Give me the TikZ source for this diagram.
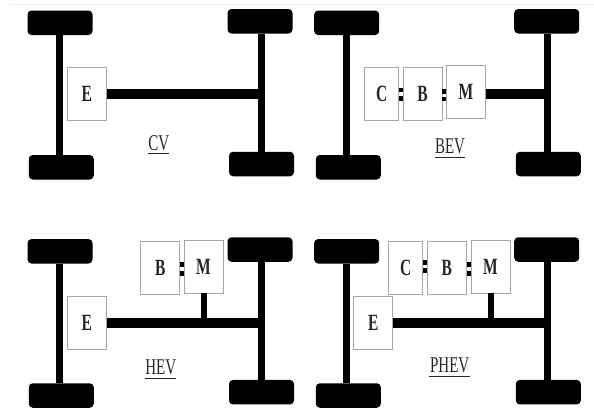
\documentclass[tikz,border=0pt]{standalone}
\usepackage{fontspec}
\setmainfont{Liberation Serif}
\usepackage{tikz}
\usetikzlibrary{positioning, calc}
\definecolor{mBorder}{HTML}{A6A6A6}
\definecolor{mInk}{HTML}{262626}
\definecolor{mFaint}{HTML}{EFEFEF}
\newcommand{\tall}[1]{\scalebox{1}[1.5]{#1}}
\tikzset{
  wheel/.style={fill=black, rounded corners=4pt, minimum width=65pt, minimum height=24.5pt, inner sep=0pt},
  axle/.style={line width=7pt},
  shaft/.style={line width=10pt},
  stub/.style={line width=6pt},
  part/.style={draw=mBorder, line width=0.9pt, fill=white, minimum height=53pt, inner sep=0pt, text=mInk, font=\fontsize{15.5}{15.5}\selectfont\bfseries},
  wide/.style={part, minimum width=39pt},
  narrow/.style={part, minimum width=34pt},
  coupler/.style={fill=black, minimum width=4pt, minimum height=4.6pt, inner sep=0pt},
  tag/.style={inner sep=0pt, text=mInk, font=\fontsize{15}{15}\selectfont},
  rule/.style={mInk, line width=1.3pt}
}

\begin{document}
\begin{tikzpicture}[x=1pt, y=-1pt]
    \useasboundingbox (0,0) rectangle (594,410);
    \coordinate (edgeA) at (10,4);
    \coordinate (edgeB) at (594,4);
    \draw[mFaint] (edgeA) -- (edgeB);

    \node[wheel] (cvTL) at (60,22.75) {};
    \node[wheel] (cvTR) at (260,21.25) {};
    \node[wheel] (cvBL) at (61.25,167.25) {};
    \node[wheel] (cvBR) at (261.5,164) {};
    \coordinate (cvLA) at (59,94);
    \coordinate (cvRA) at (261,94);
    \draw[axle] (cvTL.south -| cvLA) -- (cvBL.north -| cvLA);
    \draw[axle] (cvTR.south -| cvRA) -- (cvBR.north -| cvRA);
    \node[wide] (cvE) at (86.7,93.8) {\tall{E}};
    \draw[shaft] (cvE.east |- cvRA) -- (cvRA);
    \node[tag] (cvName) at (158.7,143) {\tall{CV}};
    \draw[rule] (148,153.7) -- (169,153.7);

    \node[wheel] (bevTL) at (346.7,22.75) {};
    \node[wheel] (bevTR) at (546.7,21.25) {};
    \node[wheel] (bevBL) at (348.3,167.25) {};
    \node[wheel] (bevBR) at (548.3,164) {};
    \coordinate (bevLA) at (346,94);
    \coordinate (bevRA) at (547.3,94);
    \draw[axle] (bevTL.south -| bevLA) -- (bevBL.north -| bevLA);
    \draw[axle] (bevTR.south -| bevRA) -- (bevBR.north -| bevRA);
    \node[narrow] (bevC) at (381.8,94) {\tall{C}};
    \node[wide] (bevB) at (422.5,93.7) {\tall{B}};
    \node[wide] (bevM) at (466,92.2) {\tall{M}};
    \node[coupler] (bevCBa) at (400.5,90) {};
    \node[coupler] (bevCBb) at (400.5,98.3) {};
    \node[coupler] (bevBMa) at (444.3,91.3) {};
    \node[coupler] (bevBMb) at (444.3,98.8) {};
    \draw[shaft] (bevM.east |- bevRA) -- (bevRA);
    \node[tag] (bevName) at (450,146) {\tall{BEV}};
    \draw[rule] (435,157.3) -- (465,157.3);

    \node[wheel] (hevTL) at (60,251.3) {};
    \node[wheel] (hevTR) at (260,249.5) {};
    \node[wheel] (hevBL) at (61.25,395.5) {};
    \node[wheel] (hevBR) at (261.5,392.2) {};
    \coordinate (hevLA) at (59,323);
    \coordinate (hevRA) at (261,323);
    \draw[axle] (hevTL.south -| hevLA) -- (hevBL.north -| hevLA);
    \draw[axle] (hevTR.south -| hevRA) -- (hevBR.north -| hevRA);
    \node[wide] (hevE) at (86.7,322.5) {\tall{E}};
    \node[wide] (hevB) at (160.2,267.7) {\tall{B}};
    \node[wide] (hevM) at (203.5,266.5) {\tall{M}};
    \node[coupler] (hevBMa) at (181.7,264.5) {};
    \node[coupler] (hevBMb) at (181.7,273.7) {};
    \draw[shaft] (hevE.east |- hevRA) -- (hevRA);
    \draw[stub] (hevM.south) -- (hevM.south |- hevRA);
    \node[tag] (hevName) at (160.7,367.7) {\tall{HEV}};
    \draw[rule] (145,378.3) -- (176,378.3);

    \node[wheel] (phevTL) at (346.7,251.3) {};
    \node[wheel] (phevTR) at (546.7,249.5) {};
    \node[wheel] (phevBL) at (348.3,395.5) {};
    \node[wheel] (phevBR) at (548.3,392.2) {};
    \coordinate (phevLA) at (346,323);
    \coordinate (phevRA) at (547.3,323);
    \draw[axle] (phevTL.south -| phevLA) -- (phevBL.north -| phevLA);
    \draw[axle] (phevTR.south -| phevRA) -- (phevBR.north -| phevRA);
    \node[wide] (phevE) at (373.3,323) {\tall{E}};
    \node[narrow] (phevC) at (405.7,267.7) {\tall{C}};
    \node[wide] (phevB) at (446.8,267.7) {\tall{B}};
    \node[wide] (phevM) at (490.5,266.5) {\tall{M}};
    \node[coupler] (phevCBa) at (425,262.3) {};
    \node[coupler] (phevCBb) at (425,270.7) {};
    \node[coupler] (phevBMa) at (468.7,264.3) {};
    \node[coupler] (phevBMb) at (468.7,273.3) {};
    \draw[shaft] (phevE.east |- phevRA) -- (phevRA);
    \draw[stub] (phevM.south) -- (phevM.south |- phevRA);
    \node[tag] (phevName) at (449.7,365.7) {\tall{PHEV}};
    \draw[rule] (429,376.7) -- (470,376.7);
\end{tikzpicture}
\end{document}
